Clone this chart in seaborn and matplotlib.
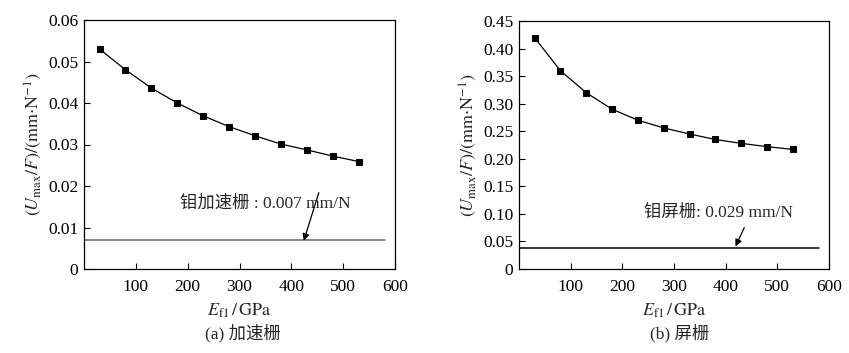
import matplotlib
matplotlib.use("Agg")
import matplotlib.pyplot as plt
import seaborn as sns
import pandas as pd

sns.set_theme(style="ticks")
plt.rcParams['font.family'] = ['Liberation Serif', 'Noto Sans CJK SC']
plt.rcParams['mathtext.fontset'] = 'stix'
plt.rcParams['font.size'] = 12.5

E = [30, 80, 130, 180, 230, 280, 330, 380, 430, 480, 530]
u_accel = [0.053, 0.048, 0.0436, 0.0400, 0.0369, 0.0343, 0.0321, 0.0301, 0.0287, 0.0272, 0.0259]
u_screen = [0.420, 0.360, 0.320, 0.290, 0.270, 0.256, 0.245, 0.235, 0.228, 0.222, 0.217]
ref_accel = 0.007
ref_screen = 0.039
yticks_a = [0, 0.01, 0.02, 0.03, 0.04, 0.05, 0.06]
yticklabels_a = ['0', '0.01', '0.02', '0.03', '0.04', '0.05', '0.06']
yticks_b = [0, 0.05, 0.10, 0.15, 0.20, 0.25, 0.30, 0.35, 0.40, 0.45]
yticklabels_b = ['0', '0.05', '0.10', '0.15', '0.20', '0.25', '0.30', '0.35', '0.40', '0.45']
xticks = [100, 200, 300, 400, 500, 600]

fig = plt.figure(figsize=(8.49, 3.53), dpi=100)
ax1 = fig.add_axes([84/849, 1-269/353, 311/849, 249/353])
ax2 = fig.add_axes([519/849, 1-269/353, 310/849, 248/353])

ylabel = r'$(U_{\rm max}/F)/(\rm mm{\cdot}N^{-1})$'
xlabel = r'$E_{\rm f1}\,/\,\rm GPa$'
cjk = ['Liberation Serif', 'Noto Sans CJK SC']

def draw(ax, y, ref, refcolor, yticks, yticklabels, ymax, text, txy, arr_tail, arr_head):
    df = pd.DataFrame({'E': E, 'U': y})
    sns.lineplot(data=df, x='E', y='U', ax=ax, color='black', lw=0.9,
                 marker='s', markersize=4.8, markeredgecolor='black', markerfacecolor='black')
    ax.plot([0, 580], [ref, ref], color=refcolor, lw=1.1)
    ax.set_xlim(0, 600)
    ax.set_ylim(0, ymax)
    ax.set_xticks(xticks)
    ax.set_xticklabels([str(t) for t in xticks])
    ax.set_yticks(yticks)
    ax.set_yticklabels(yticklabels)
    ax.tick_params(direction='in', length=4, width=0.8, colors='black', labelsize=12.5, pad=4)
    ax.tick_params(axis='x', pad=7)
    for s in ax.spines.values():
        s.set_visible(True)
        s.set_linewidth(0.9)
        s.set_color('black')
    ax.set_xlabel(xlabel, fontsize=13, labelpad=5)
    ax.set_ylabel(ylabel, fontsize=13, labelpad=3)
    ax.text(txy[0], txy[1], text, ha='center', va='center', fontsize=12.5, family=cjk)
    ax.annotate('', xy=arr_head, xytext=arr_tail,
                arrowprops=dict(arrowstyle='-|>', color='black', lw=0.9, mutation_scale=10,
                                shrinkA=0, shrinkB=0))

draw(ax1, u_accel, ref_accel, '#666666', yticks_a, yticklabels_a, 0.06,
     '钼加速栅 : 0.007 mm/N', (350, 0.0158), (453, 0.0184), (424, 0.0068))
draw(ax2, u_screen, ref_screen, 'black', yticks_b, yticklabels_b, 0.45,
     '钼屏栅: 0.029 mm/N', (386, 0.101), (436, 0.075), (419, 0.041))

fig.text(243/849, 1-333/353, '(a) 加速栅', ha='center', va='center', fontsize=12.5, family=cjk)
fig.text(680/849, 1-333/353, '(b) 屏栅', ha='center', va='center', fontsize=12.5, family=cjk)

fig.savefig('out.png', dpi=100)
